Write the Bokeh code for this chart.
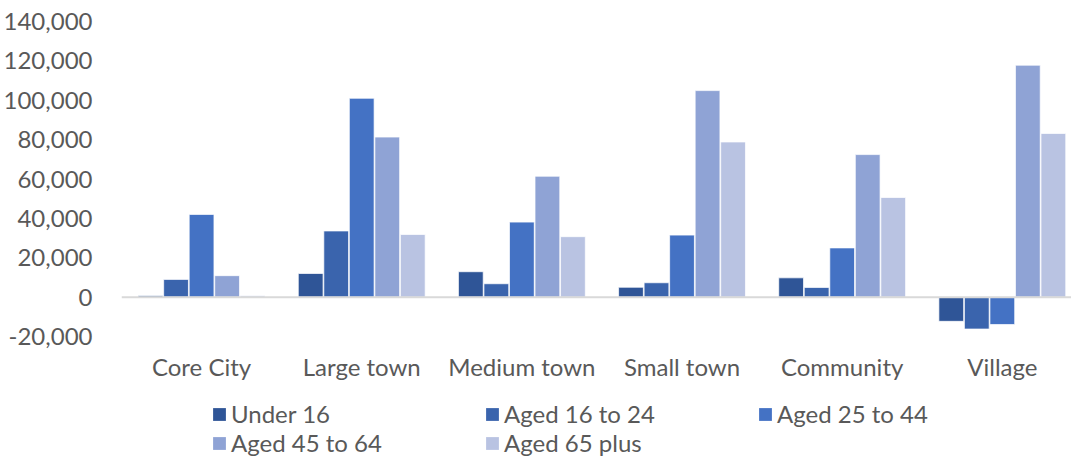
from bokeh.plotting import figure
from bokeh.layouts import column
from bokeh.models import ColumnDataSource, Range1d, Span, Legend, NumeralTickFormatter, FixedTicker
from bokeh.embed import file_html
from bokeh.resources import INLINE

categories = ["Core City", "Large town", "Medium town", "Small town", "Community", "Village"]
series_names = ["Under 16", "Aged 16 to 24", "Aged 25 to 44", "Aged 45 to 64", "Aged 65 plus"]
under_16 = [700, 12000, 12900, 5000, 9800, -12300]
aged_16_24 = [9000, 33600, 6800, 7300, 4900, -16200]
aged_25_44 = [42000, 101000, 38100, 31500, 25000, -13900]
aged_45_64 = [10900, 81300, 61400, 104900, 72400, 117800]
aged_65_plus = [700, 31800, 30700, 78800, 50600, 83100]
y_ticks = [-20000, 0, 20000, 40000, 60000, 80000, 100000, 120000, 140000]

series_values = [under_16, aged_16_24, aged_25_44, aged_45_64, aged_65_plus]
colors = ["#2F5597", "#3A64AD", "#4472C4", "#8FA3D5", "#B9C3E2"]

FONT = "Lato"
TXT = "#595959"
W = 1071
MAIN_H = 395
LEG_H = 62

p = figure(width=W, height=MAIN_H, output_backend="svg", toolbar_location=None,
           x_range=Range1d(0, 5.932), y_range=Range1d(-20000, 140000),
           min_border_left=118, min_border_right=0, min_border_top=21,
           min_border_bottom=MAIN_H - 336)
p.outline_line_color = None
p.grid.visible = False
p.background_fill_color = "white"
p.border_fill_color = "white"

slot = 0.1594
cat_idx = list(range(len(categories)))
for j, (vals, col) in enumerate(zip(series_values, colors)):
    xs = [i + 0.5 + (j - 2) * slot for i in cat_idx]
    src = ColumnDataSource(dict(x=xs, top=vals))
    p.vbar(x="x", top="top", bottom=0, width=slot * 0.97, source=src,
           fill_color=col, line_color="white", line_alpha=0.7, line_width=1)

p.add_layout(Span(location=0, dimension="width", line_color="#D9D9D9", line_width=2))

# axes
p.yaxis.ticker = FixedTicker(ticks=y_ticks)
p.yaxis.formatter = NumeralTickFormatter(format="0,0")
p.yaxis.axis_line_color = None
p.yaxis.major_tick_line_color = None
p.yaxis.minor_tick_line_color = None
p.yaxis.major_label_standoff = 23
p.yaxis.major_label_text_font = FONT
p.yaxis.major_label_text_font_size = "24px"
p.yaxis.major_label_text_color = TXT

p.xaxis.ticker = FixedTicker(ticks=[i + 0.5 for i in cat_idx])
p.xaxis.major_label_overrides = {i + 0.5: c for i, c in zip(cat_idx, categories)}
p.xaxis.axis_line_color = None
p.xaxis.major_tick_line_color = None
p.xaxis.minor_tick_line_color = None
p.xaxis.major_label_standoff = 9
p.xaxis.major_label_text_font = FONT
p.xaxis.major_label_text_font_size = "24px"
p.xaxis.major_label_text_color = TXT

# legend strip below the chart (proxy glyphs kept outside the visible range)
lg = figure(width=W, height=LEG_H, output_backend="svg", toolbar_location=None,
            x_axis_type=None, y_axis_type=None, x_range=Range1d(0, 1), y_range=Range1d(0, 1),
            min_border=0)
lg.outline_line_color = None
lg.grid.visible = False
items = []
for name, col in zip(series_names, colors):
    r = lg.quad(left=[5], right=[6], bottom=[0], top=[1], fill_color=col,
                line_color=None)
    items.append((name, [r]))

legend = Legend(items=items, location=(90, 0), orientation="horizontal", ncols=3,
                glyph_width=16, glyph_height=16, label_standoff=4, label_width=253,
                spacing=0, padding=0, margin=0, border_line_color=None,
                background_fill_alpha=0, label_text_font=FONT,
                label_text_font_size="24px", label_text_color=TXT, label_height=28)
lg.add_layout(legend, "center")

layout = column(p, lg, spacing=0)
open("out.html", "w").write(file_html(layout, INLINE))
